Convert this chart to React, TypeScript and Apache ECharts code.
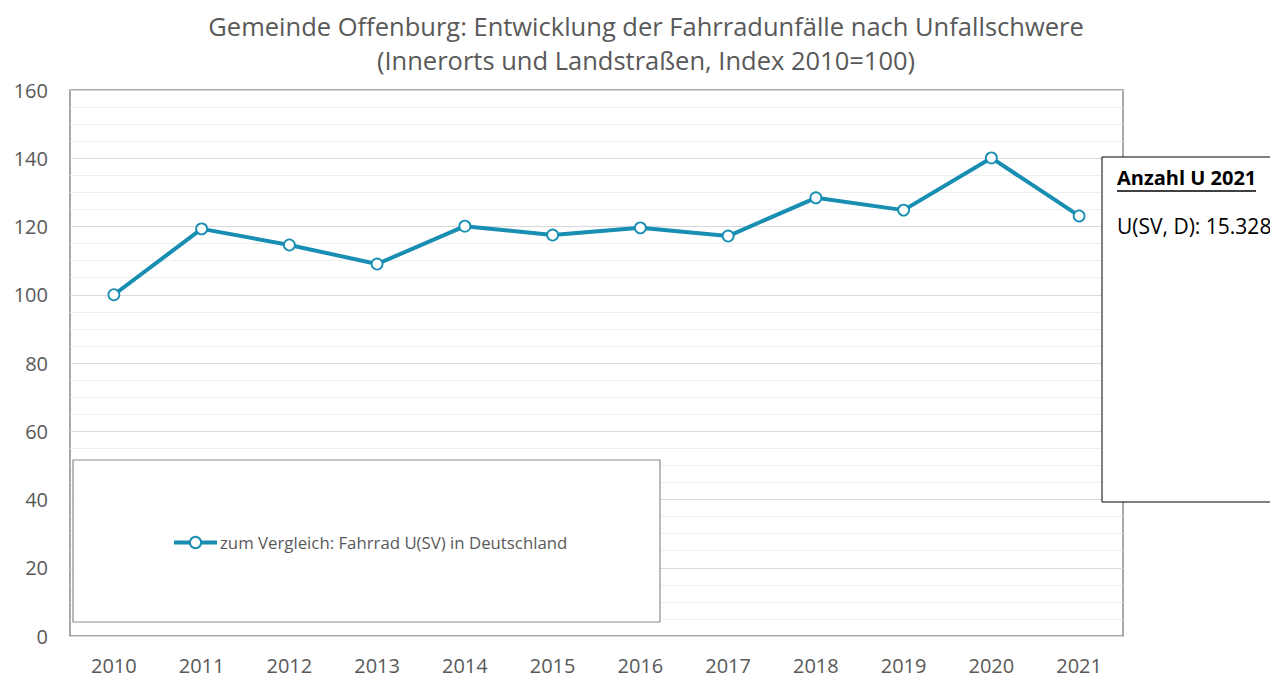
import React, { useEffect, useRef } from "react";
import * as echarts from "echarts";

const years = ["2010", "2011", "2012", "2013", "2014", "2015", "2016", "2017", "2018", "2019", "2020", "2021"];
const indexValues = [100, 119.3, 114.6, 109.0, 120.1, 117.5, 119.6, 117.2, 128.4, 124.8, 140.1, 123.1];
const seriesName = "zum Vergleich: Fahrrad U(SV) in Deutschland";
const titleLines = [
  "Gemeinde Offenburg: Entwicklung der Fahrradunfälle nach Unfallschwere",
  "(Innerorts und Landstraßen, Index 2010=100)",
];
const boxTitle = "Anzahl U 2021";
const boxText = "U(SV, D): 15.328";

const FONT = "'Open Sans', 'Noto Sans', sans-serif";
const LINE_COLOR = "#178eb2";
const TEXT_COLOR = "#595959";

export default function App() {
  const ref = useRef<HTMLDivElement>(null);
  useEffect(() => {
    if (!ref.current) return;
    const chart = echarts.init(ref.current, null, { renderer: "svg" });
    chart.setOption({
      animation: false,
      backgroundColor: "#ffffff",
      textStyle: { fontFamily: FONT },
      title: {
        text: titleLines.join("\n"),
        left: 641,
        textAlign: "center",
        top: 4,
        textStyle: { fontFamily: FONT, fontSize: 25.5, fontWeight: "normal", color: TEXT_COLOR, lineHeight: 34 },
      },
      grid: {
        left: 70,
        right: 147,
        top: 90,
        bottom: 41,
        show: true,
        borderColor: "#8c8c8c",
        borderWidth: 1.5,
        backgroundColor: "transparent",
      },
      xAxis: {
        type: "category",
        data: years,
        boundaryGap: true,
        axisLine: { show: false },
        axisTick: { show: false },
        axisLabel: { color: TEXT_COLOR, fontSize: 20, fontFamily: FONT, margin: 19 },
      },
      yAxis: {
        type: "value",
        min: 0,
        max: 160,
        interval: 20,
        axisLine: { show: false },
        axisTick: { show: false },
        axisLabel: { color: TEXT_COLOR, fontSize: 20, fontFamily: FONT, margin: 22 },
        splitLine: { show: true, lineStyle: { color: "#d9d9d9", width: 1 } },
        minorTick: { show: false, splitNumber: 4 },
        minorSplitLine: { show: true, lineStyle: { color: "#efefef", width: 1 } },
      },
      legend: {
        show: true,
        left: 167,
        top: 529,
        itemWidth: 43,
        itemHeight: 14,
        itemGap: 4,
        lineStyle: { width: 4 },
        textStyle: { color: TEXT_COLOR, fontSize: 16.8, fontFamily: FONT, padding: [0, 0, 0, -2] },
        data: [seriesName],
        z: 6,
      },
      graphic: [
        {
          type: "rect",
          shape: { x: 73, y: 460, width: 587, height: 162 },
          style: { fill: "#ffffff", stroke: "#8c8c8c", lineWidth: 1.2 },
          z: 3,
        },
        {
          type: "rect",
          shape: { x: 1102, y: 157, width: 200, height: 345 },
          style: { fill: "#ffffff", stroke: "#000000", lineWidth: 1 },
          z: 10,
        },
        {
          type: "text",
          x: 1117,
          y: 167,
          style: { text: boxTitle, fill: "#000000", font: `bold 20px ${FONT}` },
          z: 11,
        },
        {
          type: "line",
          shape: { x1: 1117, y1: 191, x2: 1256, y2: 191 },
          style: { stroke: "#000000", lineWidth: 1.5 },
          z: 11,
        },
        {
          type: "text",
          x: 1117,
          y: 215,
          style: { text: boxText, fill: "#000000", font: `21px ${FONT}` },
          z: 11,
        },
      ],
      series: [
        {
          name: seriesName,
          type: "line",
          data: indexValues,
          symbol: "circle",
          symbolSize: 11,
          showSymbol: true,
          lineStyle: { color: LINE_COLOR, width: 4 },
          itemStyle: { color: "#ffffff", borderColor: LINE_COLOR, borderWidth: 1.8 },
          z: 5,
        },
      ],
    });
    return () => chart.dispose();
  }, []);
  return <div ref={ref} style={{ position: "fixed", left: 0, top: 0, width: 1270, height: 677 }} />;
}
